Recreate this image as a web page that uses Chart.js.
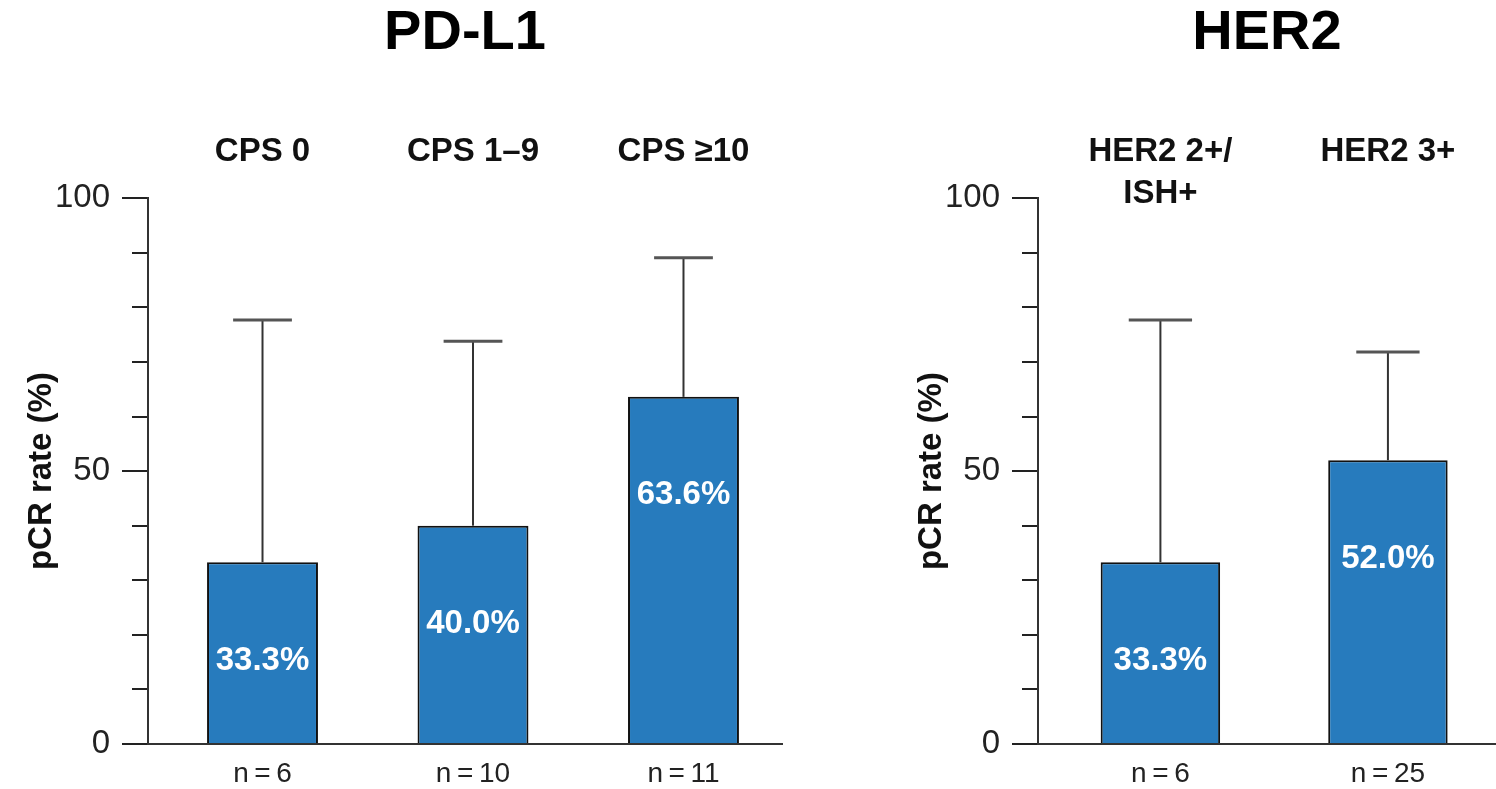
<!DOCTYPE html>
<html>
<head>
<meta charset="utf-8">
<title>pCR rate by PD-L1 and HER2 status</title>
<script src="https://cdn.jsdelivr.net/npm/chart.js@4.4.1/dist/chart.umd.min.js"></script>
<style>
  html, body { margin: 0; padding: 0; background: #fff; }
  body { width: 1496px; height: 789px; position: relative; overflow: hidden; }
  .panel { position: absolute; top: 0; }
  .panel canvas { display: block; }
  #pdl1Panel { left: 0; }
  #her2Panel { left: 890px; }
</style>
</head>
<body>
<div class="panel" id="pdl1Panel"><canvas id="pdl1Chart" width="890" height="789"></canvas></div>
<div class="panel" id="her2Panel"><canvas id="her2Chart" width="606" height="789"></canvas></div>
<script>
// PD-L1 subgroups
const pdl1Categories = ['CPS 0', 'CPS 1–9', 'CPS ≥10'];
const pdl1Rates = [33.3, 40.0, 63.6];
const pdl1Upper = [77.7, 73.8, 89.1];
const pdl1N = [6, 10, 11];

// HER2 subgroups
const her2Categories = [['HER2 2+/', 'ISH+'], 'HER2 3+'];
const her2Rates = [33.3, 52.0];
const her2Upper = [77.7, 71.8];
const her2N = [6, 25];

// y axis
const yMax = 100;
const yMajorStep = 50;
const yMinorStep = 10;

const FONT = '"Liberation Sans", Arial, Helvetica, sans-serif';
const BAR_BLUE = '#277bbd';

// error bars, % labels inside bars, subgroup names above bars
function makeExtras(p) {
  return {
    id: 'barExtras',
    afterDatasetsDraw(chart) {
      const { ctx, chartArea } = chart;
      const y = chart.scales.y;
      const bars = chart.getDatasetMeta(0).data;
      ctx.save();
      bars.forEach((bar, i) => {
        const top = y.getPixelForValue(p.upper[i]);
        const half = bar.width * 0.265;

        ctx.strokeStyle = '#333';
        ctx.lineWidth = 2;
        ctx.beginPath();
        ctx.moveTo(bar.x, bar.y);
        ctx.lineTo(bar.x, top);
        ctx.stroke();

        ctx.strokeStyle = '#555';
        ctx.lineWidth = 3;
        ctx.beginPath();
        ctx.moveTo(bar.x - half, top);
        ctx.lineTo(bar.x + half, top);
        ctx.stroke();

        ctx.fillStyle = '#fff';
        ctx.font = 'bold 33px ' + FONT;
        ctx.textAlign = 'center';
        ctx.textBaseline = 'middle';
        ctx.fillText(p.rates[i].toFixed(1) + '%', bar.x, y.getPixelForValue(p.rates[i] - 18));

        const lines = [].concat(p.categories[i]);
        ctx.fillStyle = '#111';
        lines.forEach((line, k) => {
          ctx.fillText(line, bar.x, chartArea.top - 46 + k * 42);
        });
      });
      ctx.restore();
    }
  };
}

function makePanel(canvasId, p) {
  const data = p.rates.map((v, i) => ({ x: i, y: v }));
  return new Chart(document.getElementById(canvasId), {
    type: 'bar',
    data: {
      datasets: [{
        data: data,
        backgroundColor: BAR_BLUE,
        borderColor: '#111',
        borderWidth: 2,
        barPercentage: p.barPct,
        categoryPercentage: 1
      }]
    },
    options: {
      responsive: false,
      animation: false,
      layout: { padding: { left: 0, right: p.padRight, top: 0, bottom: 0 } },
      plugins: {
        legend: { display: false },
        tooltip: { enabled: false },
        title: {
          display: true,
          text: p.title,
          fullSize: false,
          color: '#000',
          font: { family: FONT, size: 56, weight: 'bold' },
          padding: { top: 0, bottom: 131 }
        }
      },
      scales: {
        x: {
          type: 'linear',
          min: p.xMin,
          max: p.xMax,
          offset: false,
          afterBuildTicks: axis => { axis.ticks = p.n.map((_, i) => ({ value: i })); },
          afterFit: s => { s.height = 45; },
          ticks: {
            autoSkip: false,
            maxRotation: 0,
            padding: 13,
            color: '#222',
            font: { family: FONT, size: 28 },
            callback: v => 'n\u2009=\u2009' + p.n[Math.round(v)]
          },
          grid: { drawOnChartArea: false, drawTicks: false },
          border: { display: true, color: '#333', width: 2 }
        },
        y: {
          type: 'linear',
          position: 'left',
          weight: 1,
          min: 0,
          max: yMax,
          afterFit: s => { s.width = 148; },
          ticks: {
            stepSize: yMajorStep,
            padding: 12,
            color: '#222',
            font: { family: FONT, size: 33 }
          },
          grid: { drawOnChartArea: false, tickLength: 26, color: '#222', lineWidth: 2 },
          border: { display: true, color: '#333', width: 2 },
          title: {
            display: true,
            text: 'pCR rate (%)',
            color: '#111',
            font: { family: FONT, size: 33, weight: 'bold' },
            padding: { top: 22, bottom: 0 }
          }
        },
        yMinor: {
          type: 'linear',
          position: 'left',
          weight: 0,
          min: 0,
          max: yMax,
          afterFit: s => { s.width = 0; },
          ticks: { stepSize: yMinorStep, display: false },
          grid: { drawOnChartArea: false, tickLength: 16, color: '#222', lineWidth: 2 },
          border: { display: false }
        }
      }
    },
    plugins: [makeExtras(p)]
  });
}

makePanel('pdl1Chart', {
  title: 'PD-L1',
  categories: pdl1Categories,
  rates: pdl1Rates,
  upper: pdl1Upper,
  n: pdl1N,
  xMin: -0.544,
  xMax: 2.468,
  barPct: 0.527,
  padRight: 108
});

makePanel('her2Chart', {
  title: 'HER2',
  categories: her2Categories,
  rates: her2Rates,
  upper: her2Upper,
  n: her2N,
  xMin: -0.538,
  xMax: 1.475,
  barPct: 0.525,
  padRight: 0
});
</script>
</body>
</html>
